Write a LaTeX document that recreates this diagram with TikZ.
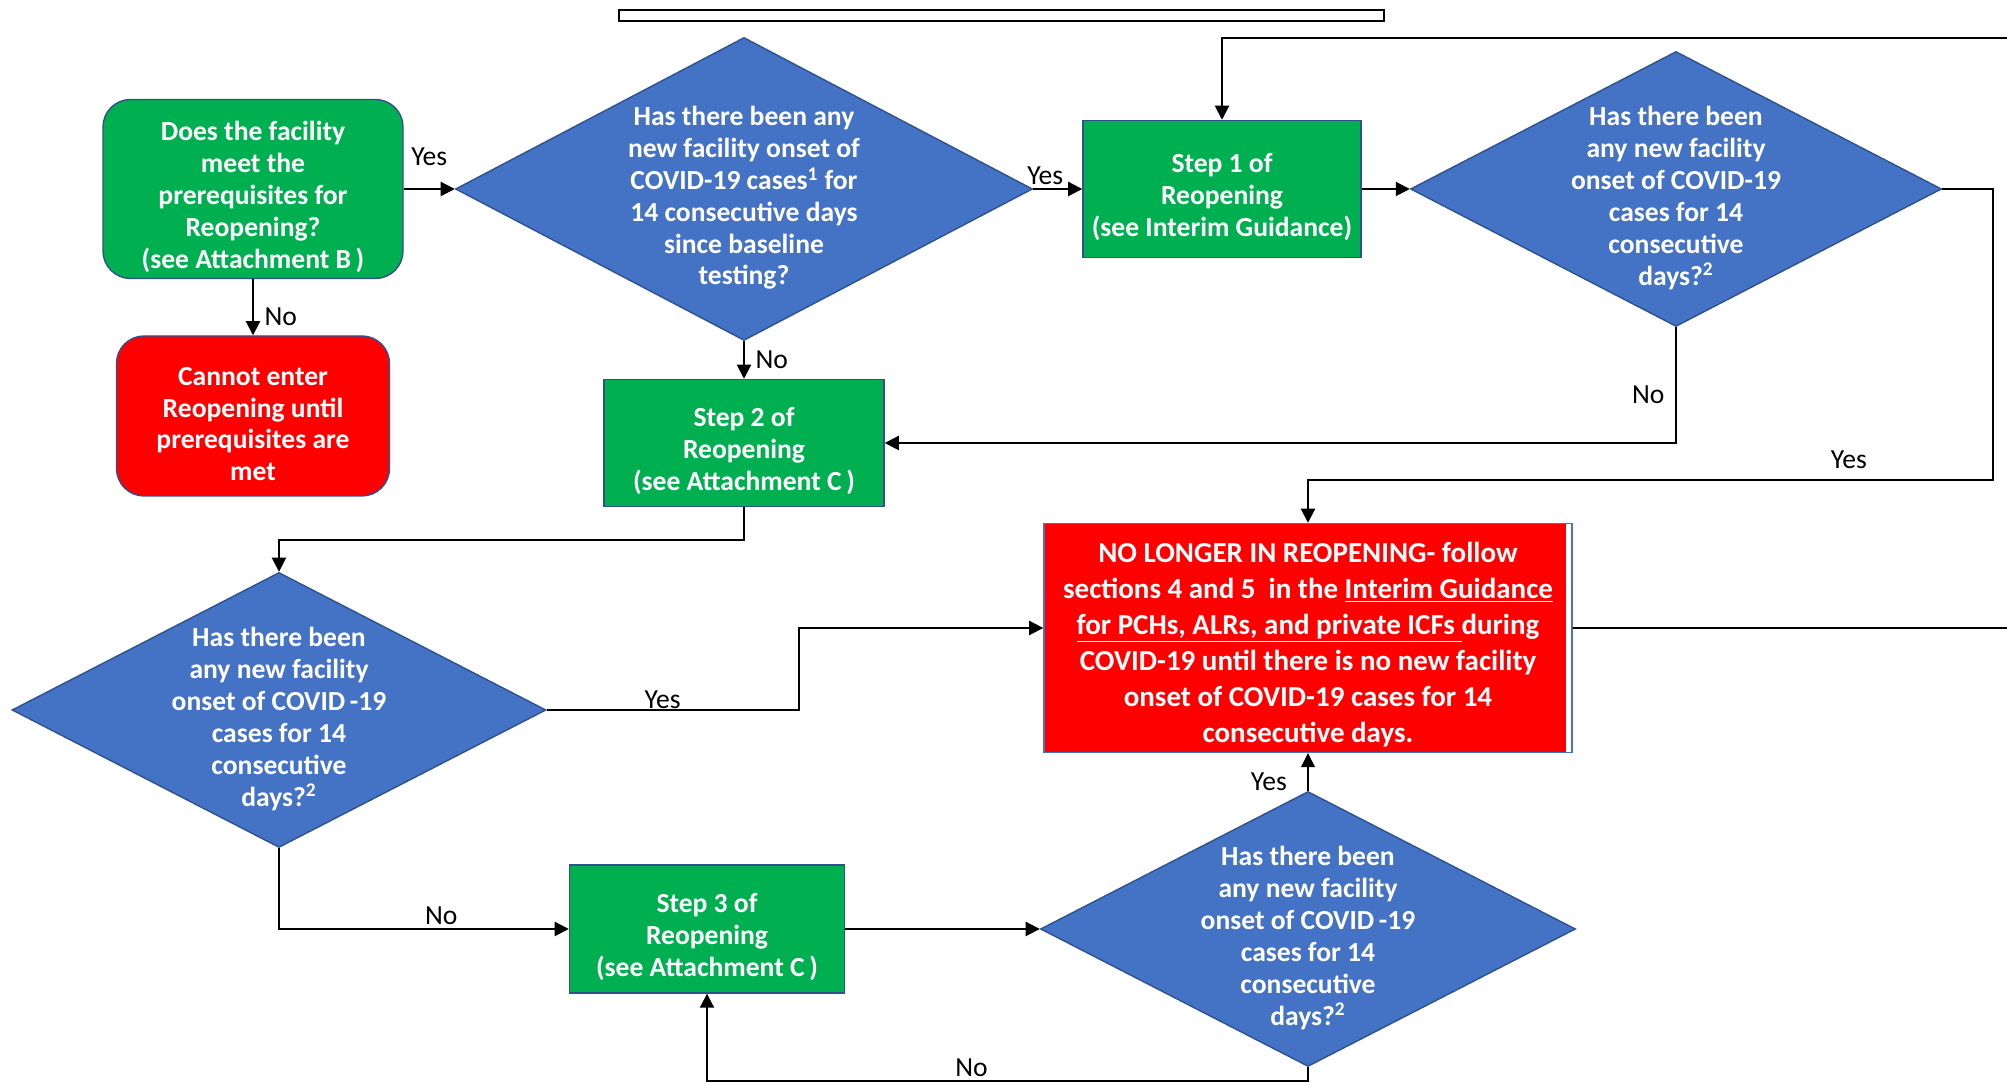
\documentclass[tikz,border=0pt]{standalone}
\usepackage{fontspec}
\setmainfont{Carlito}
\usetikzlibrary{shapes.geometric,arrows.meta}
\tikzset{>={Triangle[length=8pt,width=8pt]}}
\definecolor{stepgreen}{HTML}{00B050}
\definecolor{askblue}{HTML}{4472C4}
\definecolor{edgeblue}{HTML}{2F528F}
\definecolor{stopred}{HTML}{FF0000}

\begin{document}
\begin{tikzpicture}[%
		boxtext/.style={text=white,font=\bfseries\fontsize{15.7}{18.1}\selectfont,align=center},
		stepbox/.style={draw=edgeblue,line width=0.8pt,fill=stepgreen,rectangle},
		question/.style={draw=edgeblue,line width=0.8pt,fill=askblue,diamond,inner sep=0pt},
		answer/.style={font=\fontsize{15.7}{18.1}\selectfont,inner xsep=6pt,inner ysep=2pt},
		flow/.style={->,line width=1.1pt}
	]
	\useasboundingbox (0,0) rectangle (40.14,21.66);
	\node (titlebar) at (20.03,21.35) [draw,line width=1.2pt,minimum width=15.3cm,minimum height=0.22cm,inner sep=0pt]{};
	% boxes and questions
	\node (prereq) at (5.06,17.88) [stepbox,rounded corners=0.55cm,minimum width=6cm,minimum height=3.58cm]{};
	\node (prereqtext) at (5.06,17.72) [boxtext]{Does the facility\\meet the\\prerequisites for\\Reopening?\\(see Attachment B\,)};
	\node (noentry) at (5.06,13.34) [stepbox,fill=stopred,rounded corners=0.55cm,minimum width=5.46cm,minimum height=3.2cm]{};
	\node (noentrytext) at (5.06,13.18) [boxtext]{Cannot enter\\Reopening until\\prerequisites are\\met};
	\node (baseline) at (14.88,17.88) [question,minimum width=11.54cm,minimum height=6.06cm]{};
	\node (baselinetext) at (14.88,17.7) [boxtext]{Has there been any\\new facility onset of\\COVID-19 cases\textsuperscript{1} for\\14 consecutive days\\since baseline\\testing?};
	\node (step1) at (24.44,17.88) [stepbox,minimum width=5.56cm,minimum height=2.74cm]{};
	\node (step1text) at (24.44,17.72) [boxtext]{Step 1 of\\Reopening\\(see Interim Guidance)};
	\node (checkone) at (33.52,17.88) [question,minimum width=10.62cm,minimum height=5.5cm]{};
	\node (checkonetext) at (33.52,17.7) [boxtext]{Has there been\\any new facility\\onset of COVID-19\\cases for 14\\consecutive\\days?\textsuperscript{2}};
	\node (step2) at (14.88,12.8) [stepbox,minimum width=5.6cm,minimum height=2.54cm]{};
	\node (step2text) at (14.88,12.64) [boxtext]{Step 2 of\\Reopening\\(see Attachment C\,)};
	\node (stopbox) at (26.16,8.9) [stepbox,fill=white,draw=askblue,minimum width=10.56cm,minimum height=4.58cm,
		path picture={\fill[stopred] (path picture bounding box.south west) rectangle ([xshift=-0.13cm]path picture bounding box.north east);}]{};
	\node (stoptext) at (26.16,8.77) [boxtext,font=\bfseries\fontsize{16.5}{20.4}\selectfont]{NO LONGER IN REOPENING- follow\\sections 4 and 5\ \ in the \underline{Interim Guidance}\\\underline{for PCHs, ALRs, and private ICFs\ }during\\COVID-19 until there is no new facility\\onset of COVID-19 cases for 14\\consecutive days.};
	\node (checktwo) at (5.58,7.46) [question,minimum width=10.68cm,minimum height=5.5cm]{};
	\node (checktwotext) at (5.58,7.28) [boxtext]{Has there been\\any new facility\\onset of COVID\,-19\\cases for 14\\consecutive\\days?\textsuperscript{2}};
	\node (step3) at (14.14,3.08) [stepbox,minimum width=5.5cm,minimum height=2.56cm]{};
	\node (step3text) at (14.14,2.92) [boxtext]{Step 3 of\\Reopening\\(see Attachment C\,)};
	\node (checkthree) at (26.16,3.08) [question,minimum width=10.7cm,minimum height=5.5cm]{};
	\node (checkthreetext) at (26.16,2.9) [boxtext]{Has there been\\any new facility\\onset of COVID\,-19\\cases for 14\\consecutive\\days?\textsuperscript{2}};
	\coordinate (loopin) at (40.3,20.9);
	\coordinate (loopout) at (40.3,9.1);
	\coordinate (bottomturn) at (26.16,0.04);
	% top row
	\draw [flow] (prereq.east) -- (baseline.west) node[answer,midway,above=0.38cm] {Yes};
	\draw [flow] (prereq.south) -- (noentry.north) node[answer,pos=0.67,right] {No};
	\draw [flow] (baseline.east) -- (step1.west) node[answer,midway,above,xshift=-0.25cm] {Yes};
	\draw [flow] (baseline.south) -- (step2.north) node[answer,midway,right] {No};
	\draw [flow] (step1.east) -- (checkone.west);
	\draw [flow] (loopin) -| (step1.north);
	\draw [flow] (checkone.south) |- node[answer,pos=0.29,left] {No} (step2.east);
	\draw [flow] (checkone.east) -- ++(1.01,0) -- ++(0,-5.82) -| node[answer,pos=0.105,above=4pt] {Yes} (stopbox.north);
	% lower rows
	\draw [flow] (step2.south) -- ++(0,-0.65) -| (checktwo.north);
	\draw [flow] (checktwo.east) -- node[answer,pos=0.46,above,inner ysep=0pt] {Yes} ++(5.04,0) |- ([yshift=0.2cm]stopbox.west);
	\draw [line width=1.1pt] ([yshift=0.2cm]stopbox.east) -- (loopout);
	\draw [flow] (checktwo.south) |- node[answer,pos=0.78,above] {No} (step3.west);
	\draw [flow] (step3.east) -- (checkthree.west);
	\draw [->,line width=0.6pt] (checkthree.north) -- node[answer,pos=0.25,left,xshift=-0.2cm] {Yes} (stopbox.south);
	\draw [flow] (checkthree.south) -- (bottomturn) -| node[answer,pos=0.28,above] {No} (step3.south);
\end{tikzpicture}
\end{document}
